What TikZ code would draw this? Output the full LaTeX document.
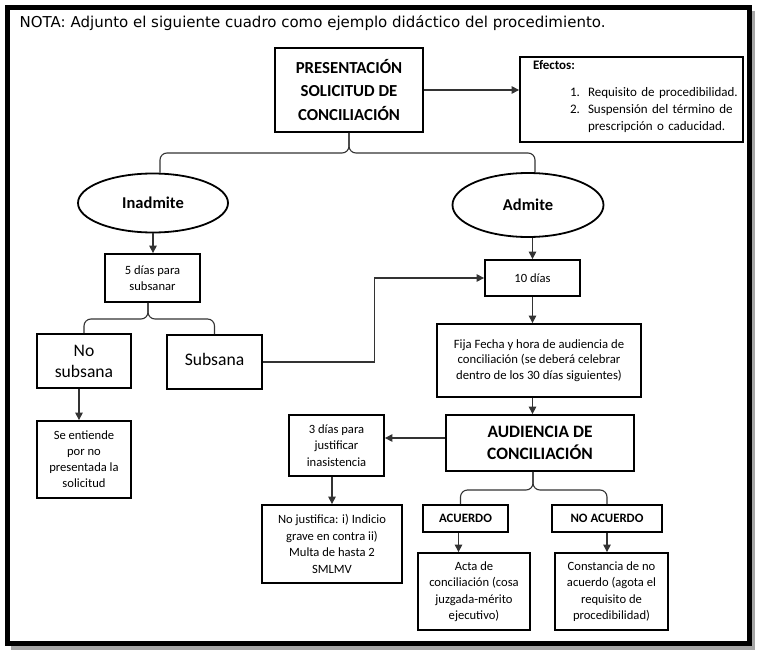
\documentclass[tikz,border=0pt]{standalone}
\usepackage{fontspec}
\setmainfont{Carlito}
\newfontfamily\notafont{DejaVu Sans}
\usetikzlibrary{arrows.meta,shapes.geometric}
\tikzset{
  box/.style={draw=black, line width=1.8pt, rectangle, inner sep=1pt, align=center},
  oval/.style={draw=black, line width=1.8pt, ellipse, inner sep=0pt, align=center},
  conn/.style={draw=black!80, line width=1.1pt},
  arr/.style={conn, -{Triangle[length=7.5pt,width=7.5pt]}},
  brace/.style={conn, rounded corners=7pt},
  fs/.style={font=\fontsize{12.6}{16.5}\selectfont},
}
\begin{document}
\begin{tikzpicture}[x=1pt,y=-1pt]
\useasboundingbox (0,0) rectangle (765,658);
% frame with shadow
\draw[line width=5pt, black!35] (752.5,11) -- (752.5,647) -- (11,647);
\draw[line width=5pt, black] (7.5,7.5) rectangle (749,643.5);
\node[anchor=base west, inner sep=0pt, font=\notafont\fontsize{15}{18}\selectfont] (nota) at (19.5,28) {NOTA: Adjunto el siguiente cuadro como ejemplo didáctico del procedimiento.};

% nodes
\node[box, minimum width=148pt, minimum height=84pt, font=\bfseries\fontsize{16.8}{23.5}\selectfont] (pres) at (349,90) {PRESENTACIÓN\\SOLICITUD DE\\CONCILIACIÓN};
\node[box, minimum width=223pt, minimum height=85pt, text width=215pt, align=left, inner sep=0pt, font=\fontsize{13}{17}\selectfont] (eff) at (631.5,99.5) {\hspace*{9pt}{\bfseries Efectos:}\\[10pt]
\hspace*{46pt}\makebox[18pt][l]{1.}Requisito de procedibilidad.\\
\hspace*{46pt}\makebox[18pt][l]{2.}Suspensión del término de\\
\hspace*{64pt}prescripción o caducidad.\\[-9pt]\mbox{}};
\node[oval, minimum width=150pt, minimum height=59pt, font=\bfseries\fontsize{16.5}{20}\selectfont] (inad) at (153,203) {Inadmite};
\node[oval, minimum width=151pt, minimum height=64pt, font=\bfseries\fontsize{16.5}{20}\selectfont] (adm) at (528,205) {Admite};
\node[box, fs, minimum width=95pt, minimum height=48pt] (subs5) at (152.5,278) {5 días para\\subsanar};
\node[box, minimum width=94pt, minimum height=54pt, font=\fontsize{17.6}{21}\selectfont] (nosub) at (84,361) {No\\subsana};
\node[box, minimum width=95pt, minimum height=54pt, font=\fontsize{17.6}{21}\selectfont] (sub) at (214.5,362) {\raisebox{6pt}{Subsana}};
\node[box, fs, minimum width=95pt, minimum height=36pt] (diez) at (532.5,278) {10 días};
\node[box, font=\fontsize{12.7}{15.8}\selectfont, minimum width=204pt, minimum height=73pt] (fija) at (539,360.5) {Fija Fecha y hora de audiencia de\\conciliación (se deberá celebrar\\dentro de los 30 días siguientes)};
\node[box, minimum width=188pt, minimum height=56pt, font=\bfseries\fontsize{17.4}{22}\selectfont] (aud) at (540,443) {AUDIENCIA DE\\CONCILIACIÓN};
\node[box, fs, minimum width=95pt, minimum height=61pt] (tres) at (336.5,445.5) {3 días para\\justificar\\inasistencia};
\node[box, fs, minimum width=140pt, minimum height=78pt] (nojust) at (332,544) {No justifica: i) Indicio\\grave en contra ii)\\Multa de hasta 2\\SMLMV};
\node[box, minimum width=85pt, minimum height=27pt, font=\bfseries\fontsize{12.8}{15}\selectfont] (acu) at (465.5,518.5) {ACUERDO};
\node[box, minimum width=110pt, minimum height=27pt, font=\bfseries\fontsize{12.8}{15}\selectfont] (noacu) at (607,518.5) {NO ACUERDO};
\node[box, fs, minimum width=112pt, minimum height=77pt] (acta) at (474,591.5) {Acta de\\conciliación (cosa\\juzgada-mérito\\ejecutivo)};
\node[box, fs, minimum width=113pt, minimum height=77pt] (const) at (611.5,591.5) {Constancia de no\\acuerdo (agota el\\requisito de\\procedibilidad)};
\node[box, font=\fontsize{12.6}{16}\selectfont, minimum width=94pt, minimum height=77pt] (seent) at (84,459.5) {Se entiende\\por no\\presentada la\\solicitud};

% arrows
\draw[arr] (pres.east) -- (pres.east -| eff.west);
\draw[arr] (inad.south) -- (inad.south |- subs5.north);
\draw[arr] ([xshift=-5pt]nosub.south) -- ([xshift=-5pt]seent.north);
\draw[arr] (sub.east) -- ++(112,0) |- (diez.west);
\draw[arr] (diez.north |- adm.south) -- (diez.north);
\draw[arr] (diez.south) -- (diez.south |- fija.north);
\draw[arr] (fija.south -| diez.south) -- (aud.north -| diez.south);
\draw[arr] ([yshift=5pt]aud.west) -- ([yshift=5pt]aud.west -| tres.east);
\draw[arr] (tres.south -| nojust.north) -- (nojust.north);
\draw[arr] ([xshift=-7pt]acu.south) -- ([xshift=-7pt]acu.south |- acta.north);
\draw[arr] (noacu.south) -- (noacu.south |- const.north);

% braces
\coordinate (b1) at (349,153);
\draw[brace] ([xshift=7pt]inad.north) |- (b1) -- (pres.south);
\draw[brace] ([xshift=7pt]adm.north) |- (b1) -- (pres.south);
\coordinate (b2) at (148,319);
\draw[brace] (nosub.north) |- (b2) -- (b2 |- subs5.south);
\draw[brace] (sub.north) |- (b2) -- (b2 |- subs5.south);
\coordinate (b3) at (533,490);
\draw[brace] ([xshift=-5pt]acu.north) |- (b3) -- (b3 |- aud.south);
\draw[brace] (noacu.north) |- (b3) -- (b3 |- aud.south);
\end{tikzpicture}
\end{document}
